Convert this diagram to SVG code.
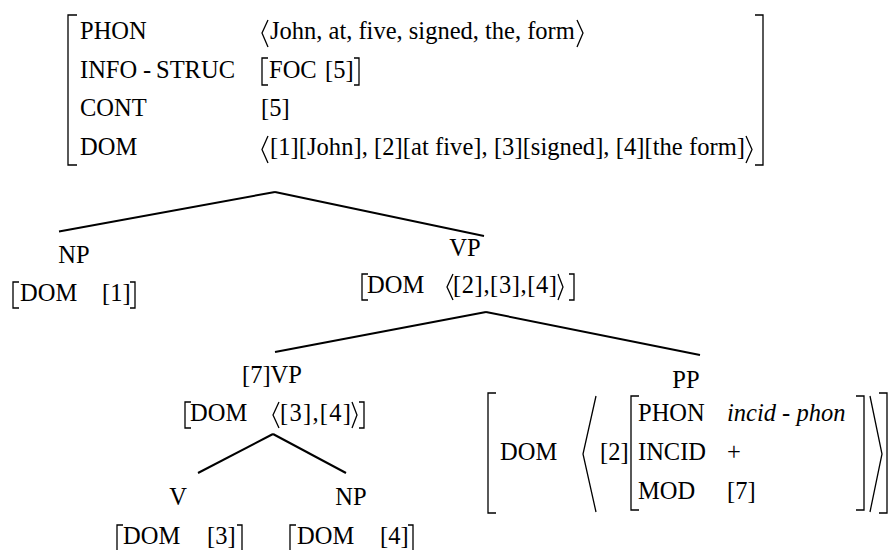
<svg xmlns="http://www.w3.org/2000/svg" width="890" height="550" viewBox="0 0 890 550" font-family="'Liberation Serif','Times New Roman',serif">
<style>
text{font-family:"Liberation Serif","Times New Roman",serif;font-size:24.5px;fill:#000}
.it{font-style:italic}
.br{fill:none;stroke:#000;stroke-width:1.3}
.edge{stroke:#000;stroke-width:2;fill:none}
</style>
<rect width="890" height="550" fill="#fff"/>

<g id="root-avm">
<path class="br" d="M77 15H68V165H77"/>
<path class="br" d="M755 15H763V165H755"/>
<text x="80" y="39">PHON</text>
<text x="80" y="77.7">INFO<tspan x="143">-</tspan><tspan x="156">STRUC</tspan></text>
<text x="80" y="116.4">CONT</text>
<text x="80" y="155">DOM</text>
<path class="br" d="M268 20L262 33L268 47"/>
<text x="270" y="39">John, at, five, signed, the, form</text>
<path class="br" d="M577 20L583 33L577 47"/>
<path class="br" d="M268 58H262V85H268"/>
<text x="269" y="77.7">FOC</text>
<text x="325" y="77.7">[5]</text>
<path class="br" d="M354 58H359V85H354"/>
<text x="261" y="116.4">[5]</text>
<path class="br" d="M268 136L262 149.5L268 163"/>
<text x="270" y="155" textLength="475" lengthAdjust="spacing">[1][John], [2][at five], [3][signed], [4][the form]</text>
<path class="br" d="M746 136L752 149.5L746 163"/>
</g>

<g id="connectors">
<line class="edge" x1="275" y1="192" x2="59" y2="231.5"/>
<line class="edge" x1="275" y1="192" x2="484" y2="236"/>
<line class="edge" x1="486" y1="312" x2="275" y2="352"/>
<line class="edge" x1="486" y1="312" x2="700" y2="355"/>
<line class="edge" x1="273" y1="434" x2="198" y2="473"/>
<line class="edge" x1="273" y1="434" x2="346" y2="473"/>
</g>

<g id="np1">
<text x="74" y="263" text-anchor="middle">NP</text>
<path class="br" d="M19 282H13V308H19"/>
<text x="20" y="301">DOM</text>
<text x="102" y="301">[1]</text>
<path class="br" d="M130 282H135V308H130"/>
</g>

<g id="vp1">
<text x="465" y="256" text-anchor="middle">VP</text>
<path class="br" d="M368 274H362V300H368"/>
<text x="367" y="293">DOM</text>
<path class="br" d="M453 274L447 287L453 300"/>
<text x="453" y="293" textLength="104" lengthAdjust="spacing">[2],[3],[4]</text>
<path class="br" d="M558 274L563 287L558 300"/>
<path class="br" d="M569 274H574V300H569"/>
</g>

<g id="vp2">
<text x="272" y="383" text-anchor="middle">[7]VP</text>
<path class="br" d="M191 402H185V428H191"/>
<text x="190" y="421">DOM</text>
<path class="br" d="M279 402L273 415L279 428"/>
<text x="280" y="421" textLength="71" lengthAdjust="spacing">[3],[4]</text>
<path class="br" d="M352 402L357 415L352 428"/>
<path class="br" d="M359 402H364V428H359"/>
</g>

<g id="v">
<text x="178" y="505" text-anchor="middle">V</text>
<path class="br" d="M123 525H117V551H123"/>
<text x="123" y="544">DOM</text>
<text x="207" y="544">[3]</text>
<path class="br" d="M237 525H242V551H237"/>
</g>

<g id="np2">
<text x="351" y="505" text-anchor="middle">NP</text>
<path class="br" d="M296 525H290V551H296"/>
<text x="297" y="544">DOM</text>
<text x="380" y="544">[4]</text>
<path class="br" d="M408 525H413V551H408"/>
</g>

<g id="pp">
<text x="686" y="388" text-anchor="middle">PP</text>
<path class="br" d="M496 393H488V513H496"/>
<text x="500" y="460">DOM</text>
<path class="br" d="M596 396L583 454L596 512"/>
<text x="600" y="460">[2]</text>
<path class="br" d="M639 396H631V510H639"/>
<text x="638" y="421">PHON</text>
<text x="727" y="421" class="it">incid - phon</text>
<text x="638" y="460">INCID</text>
<text x="727" y="460">+</text>
<text x="638" y="499">MOD</text>
<text x="727" y="499">[7]</text>
<path class="br" d="M856 396H864V510H856"/>
<path class="br" d="M870 396L882 454L870 512"/>
<path class="br" d="M879 393H887V513H879"/>
</g>
</svg>
